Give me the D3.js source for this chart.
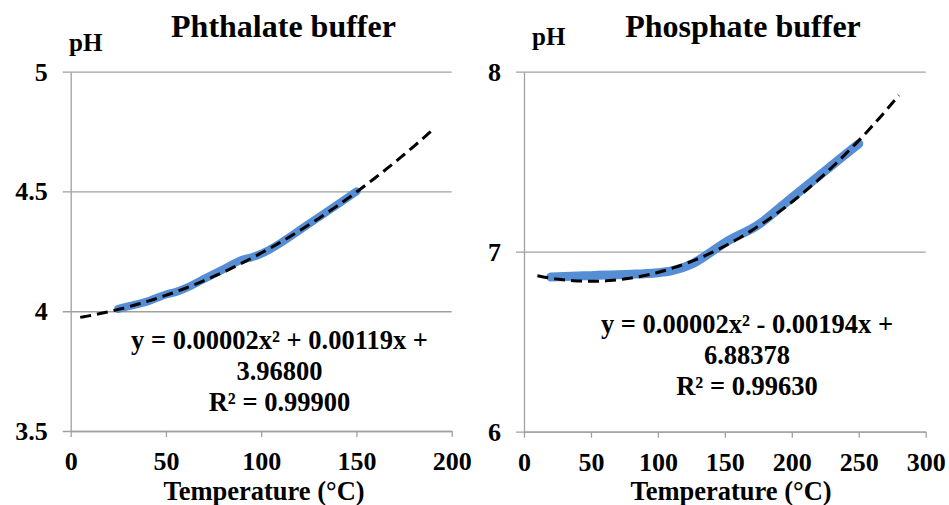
<!DOCTYPE html>
<html><head><meta charset="utf-8">
<script src="https://cdn.jsdelivr.net/npm/d3@7"></script>
<style>
body{margin:0;background:#fff}
</style>
</head><body>
<svg id="c" width="949" height="505"></svg>
<script>
// ---- data ----
const phthalateTemp = [25, 30, 35, 40, 45, 50, 55, 60, 70, 80, 90, 95, 100, 125, 150];
const phthalatePH   = [4.01, 4.02, 4.03, 4.04, 4.055, 4.07, 4.08, 4.095, 4.135, 4.175, 4.215, 4.225, 4.24, 4.365, 4.50];
const phosphateTemp = [20, 30, 40, 50, 60, 70, 80, 90, 100, 110, 125, 140, 150, 175, 200, 225, 250];
const phosphatePH   = [6.86, 6.862, 6.865, 6.867, 6.87, 6.872, 6.875, 6.878, 6.883, 6.893, 6.93, 7.0, 7.05, 7.15, 7.3, 7.45, 7.6];

// quadratic trendline coefficients [a, b, c]
const phthalateTrendCoef = [0.0000156, 0.00119, 3.968];
const phosphateTrendCoef = [0.0000195, -0.00194, 6.88378];

const phthalateXTicks = [0, 50, 100, 150, 200];
const phthalateYTicks = [3.5, 4, 4.5, 5];
const phosphateXTicks = [0, 50, 100, 150, 200, 250, 300];
const phosphateYTicks = [6, 7, 8];

const phthalateTrendRange = [5, 190];
const phosphateTrendRange = [10, 280];

const phthalateEquation = ["y = 0.00002x\u00B2 + 0.00119x +", "3.96800", "R\u00B2 = 0.99900"];
const phosphateEquation = ["y = 0.00002x\u00B2 - 0.00194x +", "6.88378", "R\u00B2 = 0.99630"];

const titles = ["Phthalate buffer", "Phosphate buffer"];
const yLabel = "pH";
const xLabel = "Temperature (\u00B0C)";

const FONT = "'Liberation Serif', 'Times New Roman', Times, serif";

const svg = d3.select("#c");
const gridColor = "#a0a0a0";

function styleText(sel, size) {
  sel.attr("font-family", FONT).style("font-family", FONT)
     .style("font-weight", "bold").style("font-size", size + "px").attr("fill", "#000");
}

function drawChart(cfg) {
  const x = d3.scaleLinear().domain(cfg.xDomain).range(cfg.xRange);
  const y = d3.scaleLinear().domain(cfg.yDomain).range(cfg.yRange);
  const g = svg.append("g");
  const plotW = cfg.xRange[1] - cfg.xRange[0];

  const ya = g.append("g").attr("transform", `translate(${cfg.xRange[0]},0)`)
    .call(d3.axisLeft(y).tickValues(cfg.yTicks).tickSize(8).tickSizeOuter(0).tickPadding(15)
      .tickFormat(d3.format("")));
  ya.attr("font-family", FONT);
  ya.selectAll(".tick line").attr("x1", plotW).attr("stroke", gridColor).attr("stroke-width", 1.3);
  ya.select(".domain").attr("stroke", gridColor).attr("stroke-width", 1.3);
  styleText(ya.selectAll(".tick text"), 26);

  const xa = g.append("g").attr("transform", `translate(0,${cfg.yRange[0]})`)
    .call(d3.axisBottom(x).tickValues(cfg.xTicks).tickSize(6).tickSizeOuter(0).tickPadding(14.5));
  xa.attr("font-family", FONT);
  xa.selectAll(".tick line").attr("stroke", gridColor).attr("stroke-width", 1.3);
  xa.select(".domain").attr("stroke", gridColor).attr("stroke-width", 1.3);
  styleText(xa.selectAll(".tick text"), 26);

  const pts = cfg.xs.map((v, i) => [v, cfg.ys[i]]);
  g.append("path").datum(pts)
    .attr("fill", "none").attr("stroke", "#558ed5").attr("stroke-width", cfg.lineW)
    .attr("stroke-linecap", "round").attr("stroke-linejoin", "round")
    .attr("d", d3.line().x(d => x(d[0])).y(d => y(d[1])).curve(d3.curveMonotoneX));

  const [a, b, c] = cfg.coef;
  const tr = d3.range(0, 101).map(i => {
    const t = cfg.trendRange[0] + (cfg.trendRange[1] - cfg.trendRange[0]) * i / 100;
    return [t, a * t * t + b * t + c];
  });
  g.append("path").datum(tr)
    .attr("fill", "none").attr("stroke", "#000").attr("stroke-width", 3)
    .attr("stroke-dasharray", "11,6")
    .attr("d", d3.line().x(d => x(d[0])).y(d => y(d[1])));

  styleText(g.append("text").attr("x", cfg.titleX).attr("y", 37).attr("text-anchor", "middle")
    .text(cfg.title), 32);
  styleText(g.append("text").attr("x", cfg.phX).attr("y", cfg.phY).text(yLabel), 25);
  styleText(g.append("text").attr("x", cfg.xLabelX).attr("y", 500).attr("text-anchor", "middle")
    .text(xLabel), 26.5);
  cfg.equation.forEach((line, i) => {
    styleText(g.append("text").attr("x", cfg.eqX).attr("y", cfg.eqY + i * 31)
      .attr("text-anchor", "middle").text(line), 26.5);
  });
}

drawChart({
  xDomain: [0, 200], xRange: [70.7, 451.7],
  yDomain: [3.5, 5], yRange: [431, 71.7],
  xTicks: phthalateXTicks, yTicks: phthalateYTicks,
  xs: phthalateTemp, ys: phthalatePH, lineW: 8, coef: phthalateTrendCoef,
  trendRange: phthalateTrendRange,
  title: titles[0], titleX: 283.5, phX: 69, phY: 51,
  xLabelX: 264, equation: phthalateEquation, eqX: 279.5, eqY: 349
});
drawChart({
  xDomain: [0, 300], xRange: [524, 925.7],
  yDomain: [6, 8], yRange: [431.7, 71.7],
  xTicks: phosphateXTicks, yTicks: phosphateYTicks,
  xs: phosphateTemp, ys: phosphatePH, lineW: 9, coef: phosphateTrendCoef,
  trendRange: phosphateTrendRange,
  title: titles[1], titleX: 743, phX: 532, phY: 45,
  xLabelX: 731, equation: phosphateEquation, eqX: 747, eqY: 333
});
</script>
</body></html>
